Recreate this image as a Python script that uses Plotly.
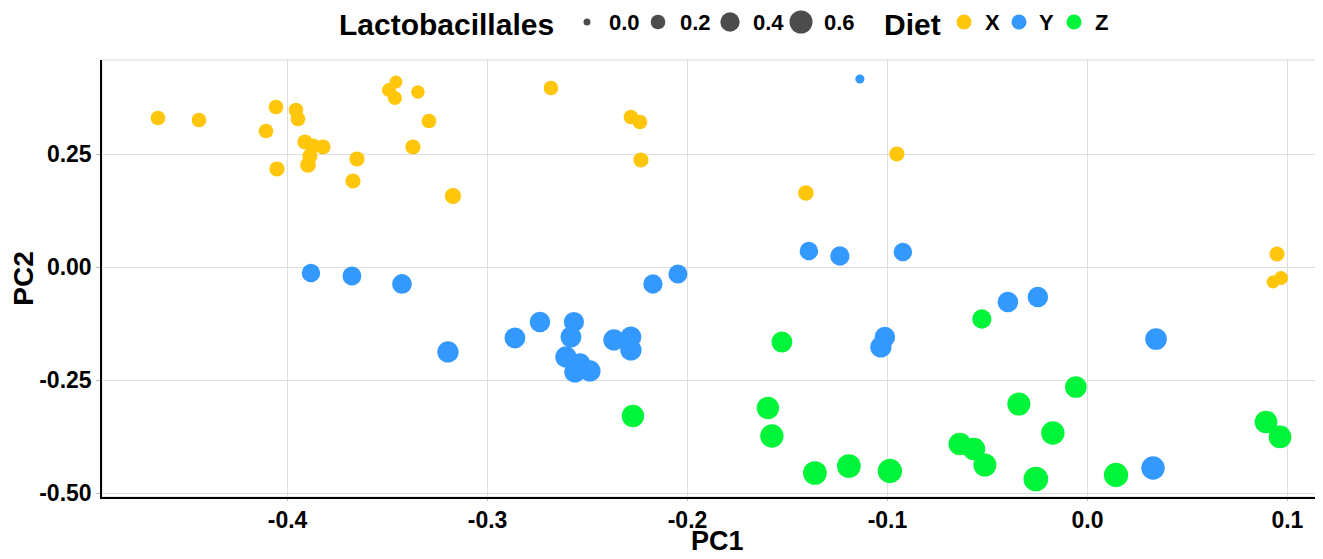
import numpy as np
import plotly.graph_objects as go

# ---------------- data ----------------
x_X = [-0.4648, -0.4443, -0.4058, -0.4108, -0.3958, -0.3948, -0.3913, -0.3873, -0.3823, -0.3888,
       -0.3898, -0.4053, -0.3653, -0.3673, -0.3373, -0.3173, -0.3493, -0.3458, -0.3463, -0.3348,
       -0.3293, -0.2683, -0.2283, -0.2238, -0.2233, -0.0953, -0.1408, 0.0948, 0.0968, 0.0928]
y_X = [0.3303, 0.3259, 0.3546, 0.3015, 0.3480, 0.3281, 0.2772, 0.2684, 0.2662, 0.2462,
       0.2263, 0.2175, 0.2396, 0.1909, 0.2662, 0.1577, 0.3923, 0.4100, 0.3746, 0.3878,
       0.3237, 0.3967, 0.3325, 0.3215, 0.2374, 0.2507, 0.1644, 0.0294, -0.0237, -0.0325]
lacto_X = [0.20, 0.20, 0.20, 0.20, 0.20, 0.20, 0.22, 0.22, 0.22, 0.22,
           0.24, 0.22, 0.22, 0.22, 0.22, 0.26, 0.18, 0.14, 0.18, 0.16,
           0.20, 0.20, 0.20, 0.20, 0.22, 0.22, 0.24, 0.22, 0.18, 0.14]

x_Y = [-0.3883, -0.3678, -0.3428, -0.3198, -0.2863, -0.2738, -0.2568, -0.2583, -0.2608, -0.2538,
       -0.2563, -0.2488, -0.2368, -0.2283, -0.2283, -0.2173, -0.2048, -0.1393, -0.1238, -0.0923,
       -0.1138, -0.0398, -0.0248, -0.1013, -0.1033, 0.0343, 0.0328]
y_Y = [-0.0126, -0.0192, -0.0369, -0.1873, -0.1564, -0.1210, -0.1210, -0.1542, -0.1984, -0.2139,
       -0.2316, -0.2294, -0.1608, -0.1542, -0.1829, -0.0369, -0.0148, 0.0361, 0.0250, 0.0338,
       0.4166, -0.0768, -0.0657, -0.1542, -0.1763, -0.1586, -0.4440]
lacto_Y = [0.36, 0.38, 0.42, 0.50, 0.48, 0.46, 0.44, 0.48, 0.50, 0.50,
           0.50, 0.50, 0.50, 0.48, 0.50, 0.40, 0.38, 0.36, 0.40, 0.36,
           0.04, 0.46, 0.46, 0.46, 0.50, 0.52, 0.62]

x_Z = [-0.2273, -0.1528, -0.0528, -0.1598, -0.1578, -0.1363, -0.1193, -0.0988, -0.0638, -0.0568,
       -0.0513, -0.0258, 0.0143, -0.0343, -0.0173, -0.0058, 0.0893, 0.0963]
y_Z = [-0.3290, -0.1653, -0.1144, -0.3113, -0.3732, -0.4551, -0.4396, -0.4507, -0.3909, -0.4020,
       -0.4374, -0.4684, -0.4595, -0.3024, -0.3666, -0.2648, -0.3423, -0.3754]
lacto_Z = [0.56, 0.48, 0.40, 0.56, 0.62, 0.64, 0.64, 0.68, 0.58, 0.58,
           0.60, 0.70, 0.68, 0.60, 0.62, 0.52, 0.58, 0.58]

diet_levels = ["X", "Y", "Z"]
diet_colors = ["#FFC60B", "#3399FF", "#00F53A"]
size_breaks = [0.0, 0.2, 0.4, 0.6]
size_labels = ["0.0", "0.2", "0.4", "0.6"]

x_tickvals = [-0.4, -0.3, -0.2, -0.1, 0.0, 0.1]
x_ticktext = ["-0.4", "-0.3", "-0.2", "-0.1", "0.0", "0.1"]
y_tickvals = [0.25, 0.0, -0.25, -0.5]
y_ticktext = ["0.25", "0.00", "-0.25", "-0.50"]


def diam(v):
    v = np.asarray(v, dtype=float)
    return np.sqrt(36.0 + 750.0 * v) + 1.0


FONT = "Arial, 'Liberation Sans', sans-serif"

fig = go.Figure()
series = [(x_X, y_X, lacto_X), (x_Y, y_Y, lacto_Y), (x_Z, y_Z, lacto_Z)]
for (xs, ys, ls), name, col in zip(series, diet_levels, diet_colors):
    fig.add_trace(go.Scatter(
        x=xs, y=ys, mode="markers", name=name, showlegend=False,
        marker=dict(color=col, size=diam(ls), line=dict(width=0), opacity=1),
        xaxis="x", yaxis="y"))

# ---------------- geometry (page has an 8px body margin) ----------------
OFF = 8
W, H = 1323 - OFF, 559 - OFF
ML = 102 - OFF          # left axis at page x=102
MR = 3                  # right panel edge at page x=1320
MB = 62                 # bottom axis at page y=497
MT = 0
plot_h = H - MT - MB
panel_top = 60 - OFF    # panel top at page y=60

# legend items, in page pixel coordinates (helper axes map page px)
size_dot_x = [587, 658, 730, 801]
size_lab_x = [607, 678, 751, 822]
diet_dot_x = [964, 1019, 1074]
diet_lab_x = [983, 1037, 1093]
leg_y = 22

fig.add_trace(go.Scatter(
    x=size_dot_x, y=[leg_y] * len(size_breaks), mode="markers", showlegend=False,
    marker=dict(color="black", size=diam(size_breaks), line=dict(width=0)),
    xaxis="x2", yaxis="y2", hoverinfo="skip"))
fig.add_trace(go.Scatter(
    x=diet_dot_x, y=[leg_y] * len(diet_levels), mode="markers", showlegend=False,
    marker=dict(color=diet_colors, size=15, line=dict(width=0)),
    xaxis="x2", yaxis="y2", hoverinfo="skip"))

annotations = []
annotations.append(dict(text="Lactobacillales", x=337, y=leg_y + 2, xref="x2", yref="y2",
                        xanchor="left", yanchor="middle", showarrow=False,
                        font=dict(family=FONT, size=30, color="black", weight="bold")))
annotations.append(dict(text="Diet", x=882, y=leg_y + 2, xref="x2", yref="y2",
                        xanchor="left", yanchor="middle", showarrow=False,
                        font=dict(family=FONT, size=30, color="black", weight="bold")))
for lx, lab in zip(size_lab_x, size_labels):
    annotations.append(dict(text=lab, x=lx, y=leg_y, xref="x2", yref="y2",
                            xanchor="left", yanchor="middle", showarrow=False,
                            font=dict(family=FONT, size=22, color="black", weight="bold")))
for lx, lab in zip(diet_lab_x, diet_levels):
    annotations.append(dict(text=lab, x=lx, y=leg_y, xref="x2", yref="y2",
                            xanchor="left", yanchor="middle", showarrow=False,
                            font=dict(family=FONT, size=22, color="black", weight="bold")))

# x-axis title placed as annotation (page x=717, bottom near page y=559)
title_bottom_page = 558
annotations.append(dict(text="PC1", x=717, xref="x2", yref="paper",
                        y=-(title_bottom_page - OFF - (H - MB)) / plot_h,
                        xanchor="center", yanchor="bottom", showarrow=False,
                        font=dict(family=FONT, size=27, color="black", weight="bold")))

main_dom_top = (H - MB - panel_top) / plot_h

fig.update_layout(
    template="none",
    width=W, height=H,
    margin=dict(l=ML, r=MR, t=MT, b=MB, pad=0, autoexpand=False),
    paper_bgcolor="white", plot_bgcolor="white",
    showlegend=False,
    font=dict(family=FONT, color="black"),
    annotations=annotations,
    xaxis=dict(
        domain=[0, 1], range=[-0.4928, 0.1163], anchor="y", automargin=False,
        tickmode="array", tickvals=x_tickvals, ticktext=x_ticktext,
        showgrid=True, gridcolor="#DEDEDE", gridwidth=1, zeroline=False,
        showline=True, linecolor="black", linewidth=1.5,
        ticks="outside", ticklen=2, tickcolor="#BBBBBB", tickwidth=1,
        tickfont=dict(family=FONT, size=23, color="black", weight="bold"),
    ),
    yaxis=dict(
        domain=[0, main_dom_top], range=[-0.5082, 0.4586], anchor="x", automargin=False,
        tickmode="array", tickvals=y_tickvals, ticktext=y_ticktext,
        showgrid=True, gridcolor="#DEDEDE", gridwidth=1, zeroline=False,
        showline=True, linecolor="black", linewidth=1.5,
        ticks="outside", ticklen=4, tickcolor="#BBBBBB", tickwidth=1,
        tickfont=dict(family=FONT, size=23, color="black", weight="bold"),
        title=dict(text="PC2", standoff=3,
                   font=dict(family=FONT, size=28, color="black", weight="bold")),
    ),
    xaxis2=dict(domain=[0, 1], range=[ML + OFF, W - MR + OFF], anchor="y2", visible=False,
                fixedrange=True, automargin=False),
    yaxis2=dict(domain=[main_dom_top, 1], range=[panel_top + OFF, OFF], anchor="x2",
                visible=False, fixedrange=True, automargin=False),
    shapes=[dict(type="rect", xref="x domain", yref="y domain", x0=0, x1=1, y0=0, y1=1,
                 line=dict(color="#D9D9D9", width=1), layer="below")],
)

fig.write_html("out.html")
